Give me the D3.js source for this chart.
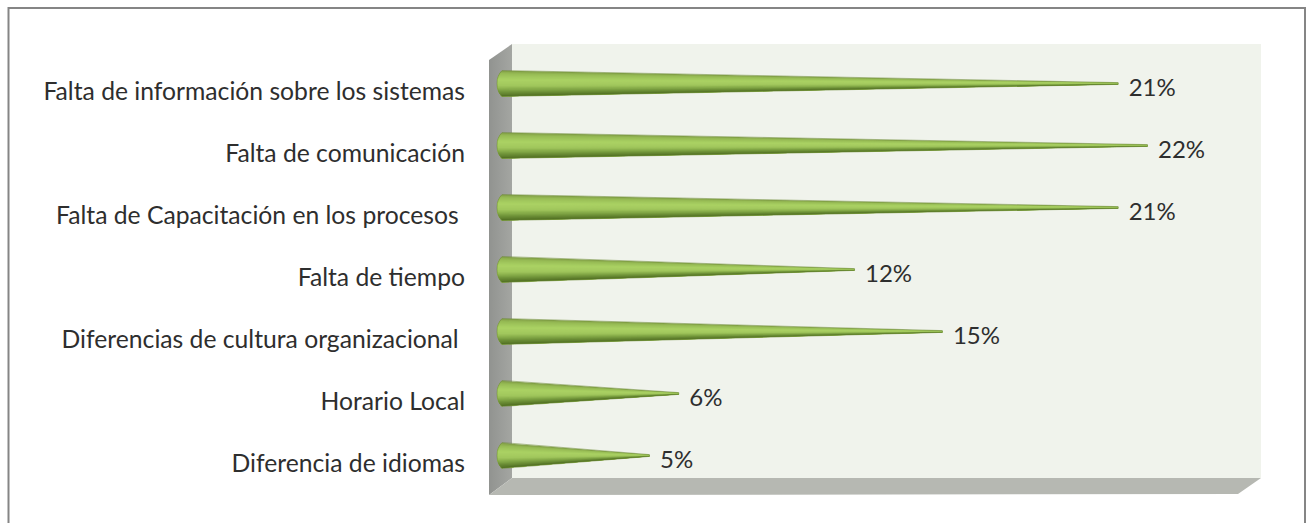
<!DOCTYPE html>
<html>
<head>
<meta charset="utf-8">
<script src="https://cdn.jsdelivr.net/npm/d3@7"></script>
<style>
html, body { margin: 0; padding: 0; background: #fff; }
svg { display: block; }
text { font-family: Lato, sans-serif; fill: #2e2e2e; }
</style>
</head>
<body>
<svg id="chart" width="1306" height="523"></svg>
<script>
const categories = [
  "Falta de información sobre los sistemas",
  "Falta de comunicación",
  "Falta de Capacitación en los procesos ",
  "Falta de tiempo",
  "Diferencias de cultura organizacional ",
  "Horario Local",
  "Diferencia de idiomas"
];
const percentages = [21, 22, 21, 12, 15, 6, 5];

// Cross-section shading of a cone, from its upper edge (-1) to its lower edge (1).
const shadeStops = [-1, -0.78, -0.3, 0.2, 0.6, 1];
const shadeColors = ["#7f9c45", "#96ba54", "#abd264", "#a0c65c", "#769a3d", "#4f6e22"];

const svg = d3.select("#chart");

// Plot box: back wall, left side wall and floor in oblique projection.
const wall = { x0: 512, x1: 1261, y0: 44, y1: 478 };
const depth = { dx: 23, dy: 16 };

const x = d3.scaleLinear().domain([0, 22]).range([503, 1147.5]);
const y = d3.scalePoint().domain(categories).range([83.5, 455.5]);
const shade = d3.scaleLinear().domain(shadeStops).range(shadeColors);

// Chart frame: open along the bottom edge of the page.
svg.append("path")
  .attr("d", "M8.5,523V8H1305V523")
  .attr("fill", "none").attr("stroke", "#858585").attr("stroke-width", 2);

svg.append("rect")
  .attr("x", wall.x0).attr("y", wall.y0)
  .attr("width", wall.x1 - wall.x0).attr("height", wall.y1 - wall.y0)
  .attr("fill", "#f0f3ec");

const defs = svg.append("defs");
const sideFill = defs.append("linearGradient").attr("id", "sideFill");
sideFill.append("stop").attr("offset", 0).attr("stop-color", "#919390");
sideFill.append("stop").attr("offset", 1).attr("stop-color", "#a4a6a2");

svg.append("polygon")
  .attr("points", [
    [wall.x0, wall.y0], [wall.x0, wall.y1],
    [wall.x0 - depth.dx, wall.y1 + depth.dy + 1], [wall.x0 - depth.dx, wall.y0 + depth.dy]
  ].join(" "))
  .attr("fill", "url(#sideFill)");

svg.append("polygon")
  .attr("points", [
    [wall.x0, wall.y1], [wall.x1, wall.y1],
    [wall.x1 - depth.dx, wall.y1 + depth.dy], [wall.x0 - depth.dx, wall.y1 + depth.dy + 1]
  ].join(" "))
  .attr("fill", "#b6b8b2");

// Cones lying along the value axis, rounded at the base and shaded along their taper.
const baseX = x(0) - 1;
const halfHeight = 13;
const capWidth = 5;
const tipHalf = 0.9;
const shadeSteps = d3.range(-1, 1, 0.1);

const outline = (cy, tip) =>
  `M${baseX},${cy - halfHeight}` +
  `L${tip},${cy - tipHalf}L${tip},${cy + tipHalf}` +
  `L${baseX},${cy + halfHeight}` +
  `Q${baseX - capWidth},${cy + 8} ${baseX - capWidth},${cy}` +
  `Q${baseX - capWidth},${cy - 8} ${baseX},${cy - halfHeight}Z`;

const cones = svg.append("g").selectAll("g").data(categories).join("g");

cones.each(function (c, i) {
  const g = d3.select(this);
  const cy = y(c);
  const tip = x(percentages[i]);
  const id = `cone-clip-${i}`;
  defs.append("clipPath").attr("id", id).append("path").attr("d", outline(cy, tip));

  // Each band runs from its own fraction of the height down to the lower edge.
  g.append("g").attr("clip-path", `url(#${id})`)
    .selectAll("polygon").data(shadeSteps).join("polygon")
    .attr("points", f => [
      [baseX - capWidth - 1, cy + f * halfHeight],
      [tip, cy + f * tipHalf],
      [tip, cy + tipHalf],
      [baseX - capWidth - 1, cy + halfHeight]
    ].join(" "))
    .attr("fill", f => shade(f + 0.05));

  g.append("path").attr("d", outline(cy, tip))
    .attr("fill", "none").attr("stroke", "#6f8c3a")
    .attr("stroke-width", 0.8).attr("stroke-opacity", 0.7);
});

// Category labels, right aligned against the side wall.
svg.append("g").selectAll("text").data(categories).join("text")
  .attr("x", 465)
  .attr("y", c => y(c) + 16.5)
  .attr("text-anchor", "end")
  .style("white-space", "pre")
  .attr("font-size", 24.7)
  .text(c => c);

// Value labels just past each cone tip.
svg.append("g").selectAll("text").data(categories).join("text")
  .attr("x", (c, i) => x(percentages[i]) + 10.5)
  .attr("y", c => y(c) + 12)
  .attr("font-size", 24)
  .text((c, i) => `${percentages[i]}%`);
</script>
</body>
</html>
